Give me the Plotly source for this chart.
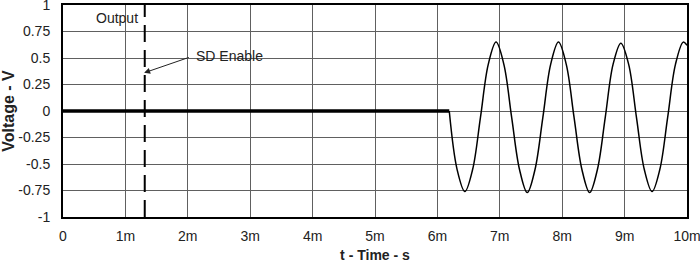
import plotly.graph_objects as go

# ---- data ----
flat_t = [0.0, 6.19]          # ms
flat_v = [0.0, 0.0]           # V
wave_t = [6.19, 6.315, 6.44, 6.565, 6.69, 6.815, 6.94, 7.065, 7.19, 7.315, 7.44,
          7.565, 7.69, 7.815, 7.94, 8.065, 8.19, 8.315, 8.44, 8.565, 8.69, 8.815,
          8.94, 9.065, 9.19, 9.315, 9.44, 9.565, 9.69, 9.815, 9.94, 10.0]
wave_v = [0.0, -0.55, -0.76, -0.55, -0.06, 0.44, 0.65, 0.44, -0.06, -0.55, -0.77,
          -0.55, -0.06, 0.44, 0.65, 0.44, -0.06, -0.55, -0.77, -0.55, -0.06, 0.44,
          0.64, 0.44, -0.06, -0.55, -0.76, -0.55, -0.06, 0.44, 0.65, 0.62]
sd_enable_t = 1.31
x_ticks = [0, 1, 2, 3, 4, 5, 6, 7, 8, 9, 10]
x_labels = ["0", "1m", "2m", "3m", "4m", "5m", "6m", "7m", "8m", "9m", "10m"]
y_ticks = [1, 0.75, 0.5, 0.25, 0, -0.25, -0.5, -0.75, -1]
y_labels = ["1", "0.75", "0.5", "0.25", "0", "-0.25", "-0.5", "-0.75", "-1"]

FONT = "Liberation Sans, Arial, sans-serif"

fig = go.Figure()
fig.add_trace(go.Scatter(x=flat_t, y=flat_v, mode="lines",
                         line=dict(color="black", width=3.5), showlegend=False))
fig.add_trace(go.Scatter(x=wave_t, y=wave_v, mode="lines",
                         line=dict(color="black", width=1.5, shape="spline", smoothing=1.0),
                         showlegend=False))

fig.add_shape(type="line", x0=sd_enable_t, x1=sd_enable_t, y0=-1, y1=1,
              xref="x", yref="y", line=dict(color="black", width=2, dash="17px,8px"))

fig.add_annotation(x=1.23, y=0.88, xref="x", yref="y", text="Output",
                   showarrow=False, xanchor="right", font=dict(size=14, color="#222", family=FONT))
fig.add_annotation(x=1.30, y=0.36, ax=2.04, ay=0.51, xref="x", yref="y",
                   axref="x", ayref="y", text="", showarrow=True, arrowhead=2,
                   arrowsize=1.2, arrowwidth=1, arrowcolor="#222")
fig.add_annotation(x=2.1, y=0.52, xref="x", yref="y", text="SD Enable",
                   showarrow=False, xanchor="left", font=dict(size=14, color="#222", family=FONT))

fig.update_layout(
    width=700, height=263,
    margin=dict(l=63, r=13, t=5, b=46),
    paper_bgcolor="white", plot_bgcolor="white",
    font=dict(family=FONT, size=14, color="#222"),
    xaxis=dict(range=[0, 10], tickvals=x_ticks, ticktext=x_labels,
               showgrid=True, gridcolor="#606060", gridwidth=1,
               showline=True, linecolor="black", linewidth=2, mirror=True,
               zeroline=False, ticks="", ticklabelstandoff=5, automargin=False,
               ticklabeloverflow="allow",
               title=dict(text="<b>t - Time - s</b>", font=dict(size=14), standoff=12)),
    yaxis=dict(range=[-1, 1], tickvals=y_ticks, ticktext=y_labels,
               showgrid=True, gridcolor="#606060", gridwidth=1,
               showline=True, linecolor="black", linewidth=2, mirror=True,
               zeroline=False, ticks="", ticklabelstandoff=8, automargin=False,
               ticklabeloverflow="allow",
               title=dict(text="<b>Voltage - V</b>", font=dict(size=16), standoff=6)),
)

fig.write_html("out.html")
